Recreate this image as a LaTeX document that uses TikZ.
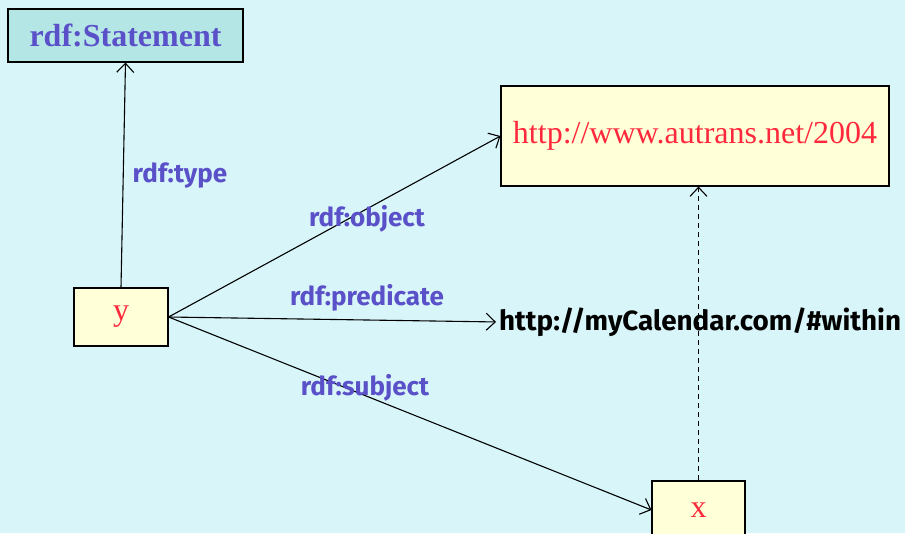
\documentclass[tikz,border=0pt]{standalone}
\usepackage{fontspec}
\setmainfont{Liberation Serif}
\newfontfamily\hand{Fira Sans}
\usetikzlibrary{arrows.meta}
\definecolor{bgcyan}{RGB}{216,246,250}
\definecolor{paleyellow}{RGB}{255,255,216}
\definecolor{paleteal}{RGB}{180,230,230}
\definecolor{labelblue}{RGB}{90,80,200}
\definecolor{urlred}{RGB}{255,40,60}
\tikzset{
  box/.style={draw=black, line width=1.1pt, inner sep=0pt},
  lit/.style={box, fill=paleyellow, text=urlred, font=\fontsize{32}{36}\selectfont},
  link/.style={draw=black, line width=1.1pt, -{Straight Barb[length=9pt,width=17pt,line width=1.1pt]}},
  prop/.style={text=labelblue, font=\hand\bfseries\fontsize{26}{30}\selectfont, inner sep=0pt}
}
\begin{document}
\begin{tikzpicture}[x=1pt,y=-1pt]
  \useasboundingbox (0,0) rectangle (905,533);
  \fill[bgcyan] (0,0) rectangle (905,533);

  % resources and literals
  \node[box, fill=paleteal, text=labelblue, font=\bfseries\fontsize{32}{36}\selectfont,
        minimum width=235pt, minimum height=53pt] (stmt) at (125.5,35.5) {rdf:Statement};
  \node[lit, minimum width=94pt, minimum height=58pt] (y) at (121,317) {y};
  \node[lit, minimum width=388pt, minimum height=100pt] (web) at (695,136) {http://www.autrans.net/2004};
  \node[lit, minimum width=93pt, minimum height=58pt] (x) at (698.5,510) {x};
  \node[anchor=west, inner sep=0pt, font=\hand\bfseries\fontsize{27.8}{32}\selectfont] (cal) at (499,322)
        {http://myCalendar.com/\#within};

  % reification edges
  \draw[link] (y.north) -- (stmt.south);
  \draw[link] (y.east) -- (web.west);
  \draw[link, shorten >=3pt] (y.east) -- (cal.west);
  \draw[link] (y.east) -- (x.west);
  \draw[link, dashed, dash pattern=on 5pt off 4pt] (x.north) -- (x.north |- web.south);

  % property labels
  \node[prop] (ltype) at (180,176) {rdf:type};
  \node[prop] (lobj) at (367,219) {rdf:object};
  \node[prop] (lpred) at (367,298) {rdf:predicate};
  \node[prop] (lsubj) at (365,388) {rdf:subject};
\end{tikzpicture}
\end{document}
